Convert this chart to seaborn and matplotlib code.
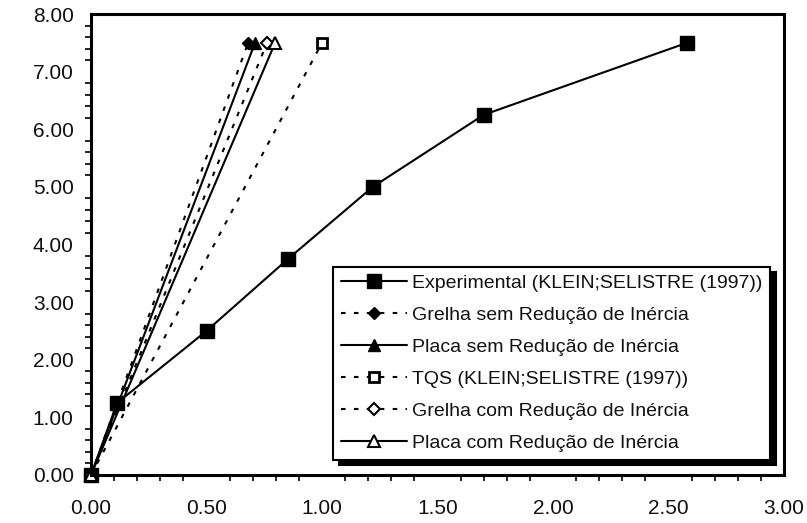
import matplotlib
matplotlib.use("Agg")
import matplotlib.pyplot as plt
from matplotlib.ticker import MultipleLocator, FormatStrFormatter
import seaborn as sns

# Load-displacement curves
exp_x = [0.0, 0.113, 0.50, 0.853, 1.22, 1.70, 2.58]
exp_y = [0.0, 1.25, 2.50, 3.75, 5.00, 6.25, 7.50]

grelha_sem_x = [0.0, 0.68]
grelha_sem_y = [0.0, 7.50]

placa_sem_x = [0.0, 0.71]
placa_sem_y = [0.0, 7.50]

tqs_x = [0.0, 1.00]
tqs_y = [0.0, 7.50]

grelha_com_x = [0.0, 0.762]
grelha_com_y = [0.0, 7.50]

placa_com_x = [0.0, 0.797]
placa_com_y = [0.0, 7.50]

labels = [
    "Experimental (KLEIN;SELISTRE (1997))",
    "Grelha sem Redução de Inércia",
    "Placa sem Redução de Inércia",
    "TQS (KLEIN;SELISTRE (1997))",
    "Grelha com Redução de Inércia",
    "Placa com Redução de Inércia",
]

sns.set_theme(style="white")
plt.rcParams["font.family"] = ["Liberation Sans", "DejaVu Sans"]

fig = plt.figure(figsize=(8.07, 5.23), dpi=100)
ax = fig.add_axes([91 / 807, 48 / 523, 693 / 807, 461 / 523])

dash = (0, (2.2, 4.0))
series = [
    (exp_x, exp_y, dict(marker="s", ms=9.5, ls="-", mfc="black", mew=1.0)),
    (grelha_sem_x, grelha_sem_y, dict(marker="D", ms=6, ls=dash, mfc="black", mew=1.0)),
    (placa_sem_x, placa_sem_y, dict(marker="^", ms=8, ls="-", mfc="black", mew=1.0)),
    (tqs_x, tqs_y, dict(marker="s", ms=7.5, ls=dash, mfc="white", mew=2.0)),
    (grelha_com_x, grelha_com_y, dict(marker="D", ms=6, ls=dash, mfc="white", mew=1.5)),
    (placa_com_x, placa_com_y, dict(marker="^", ms=8.5, ls="-", mfc="white", mew=1.5)),
]

for (xs, ys, kw), lab in zip(series, labels):
    sns.lineplot(x=xs, y=ys, ax=ax, sort=False, color="black", lw=1.5,
                 mec="black", label=lab, clip_on=False, **kw)

ax.set_xlim(0, 3)
ax.set_ylim(0, 8)
ax.xaxis.set_major_locator(MultipleLocator(0.5))
ax.xaxis.set_minor_locator(MultipleLocator(0.1))
ax.yaxis.set_major_locator(MultipleLocator(1.0))
ax.yaxis.set_minor_locator(MultipleLocator(0.2))
ax.xaxis.set_major_formatter(FormatStrFormatter("%.2f"))
ax.yaxis.set_major_formatter(FormatStrFormatter("%.2f"))

ax.tick_params(which="major", direction="inout", length=9, width=1.3,
               color="black", labelsize=15, labelcolor="#111111")
ax.tick_params(axis="x", which="major", pad=13)
ax.tick_params(axis="y", which="major", pad=8)
ax.tick_params(which="minor", direction="out", length=4.5, width=1.2,
               color="black", bottom=True, left=True)
ax.tick_params(top=False, right=False, which="both")

for sp in ax.spines.values():
    sp.set_visible(True)
    sp.set_color("black")
    sp.set_linewidth(2.2)

leg = ax.legend(loc="lower right", bbox_to_anchor=(0.98, 0.033),
                borderaxespad=0, fontsize=14, frameon=True, fancybox=False,
                handlelength=3.4, handletextpad=0.25, labelspacing=0.74,
                borderpad=0.4,
                shadow={"ox": 4, "oy": -4, "color": "black", "alpha": 1.0})
leg.get_frame().set_edgecolor("black")
leg.get_frame().set_linewidth(1.5)
leg.get_frame().set_facecolor("white")
for t in leg.get_texts():
    t.set_color("#111111")

fig.savefig("out.png", dpi=100, facecolor="white")
